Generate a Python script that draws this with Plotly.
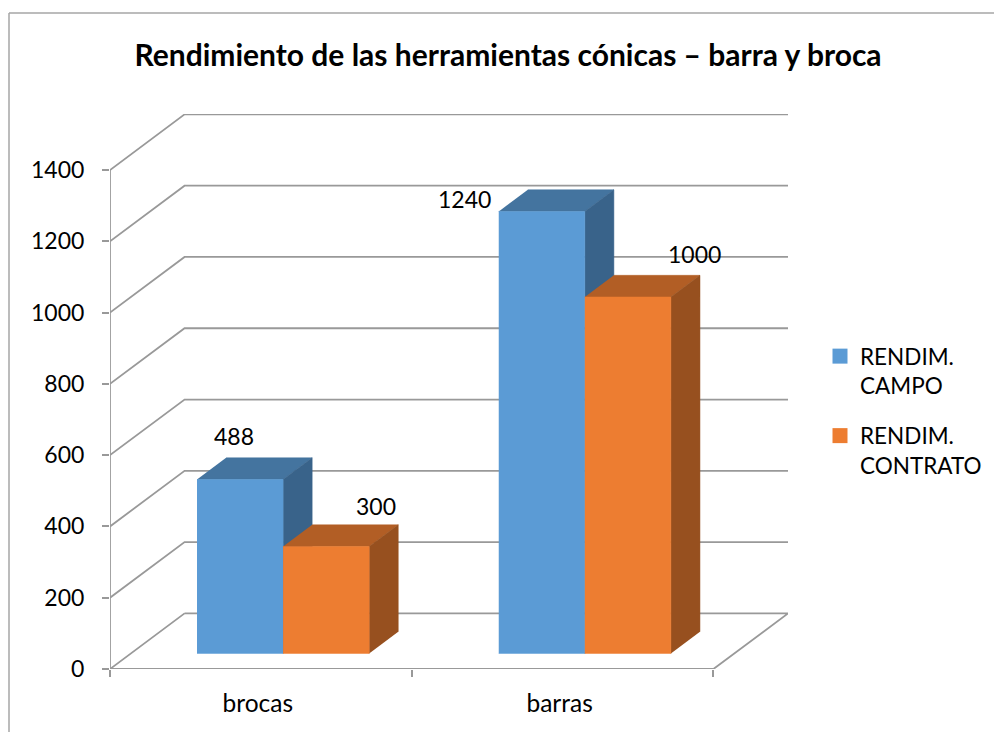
import plotly.graph_objects as go

categories = ['brocas', 'barras']
series_names = ['RENDIM.<br>CAMPO', 'RENDIM.<br>CONTRATO']
campo = [488, 1240]
contrato = [300, 1000]
y_ticks = [0, 200, 400, 600, 800, 1000, 1200, 1400]
title = 'Rendimiento de las herramientas cónicas – barra y broca'

GRID = '#999999'
TEXT = '#000000'
FONT = 'Lato'

# fake 3d: how much one unit of depth moves a point, in axis units
DEPTH_X = 0.2471
DEPTH_Y = 156
BAR_WIDTH = 0.2853
BAR_GAP = 0.2192
BAR_NEAR = 0.28
BAR_FAR = 0.67

# front, top and side colours of each series
series_colors = [('#5B9BD5', '#44749F', '#39638A'), ('#ED7D31', '#B25E25', '#97501F')]
# where each value label sits relative to its bar, in px
label_shifts = [[(-6, 43), (50, 41)], [(-77, 12), (67, 43)]]


def project(x, y, depth):
    return x + depth * DEPTH_X, y + depth * DEPTH_Y


def add_line(fig, points):
    xy = [project(*p) for p in points]
    fig.add_trace(go.Scatter(x=[p[0] for p in xy], y=[p[1] for p in xy], mode='lines', showlegend=False,
                             line=dict(color=GRID, width=1.8), cliponaxis=False, hoverinfo='skip'))


def add_face(fig, points, color):
    xy = [project(*p) for p in points]
    fig.add_trace(go.Scatter(x=[p[0] for p in xy], y=[p[1] for p in xy], mode='lines', fill='toself',
                             fillcolor=color, line=dict(color=color, width=0.5), showlegend=False,
                             cliponaxis=False, hoverinfo='skip'))


def add_bar(fig, x0, value, colors):
    x1 = x0 + BAR_WIDTH
    near, far = BAR_NEAR, BAR_FAR
    add_face(fig, [(x0, value, near), (x1, value, near), (x1, value, far), (x0, value, far)], colors[1])
    add_face(fig, [(x1, 0, near), (x1, value, near), (x1, value, far), (x1, 0, far)], colors[2])
    add_face(fig, [(x0, 0, near), (x1, 0, near), (x1, value, near), (x0, value, near)], colors[0])


fig = go.Figure()
n_cat = len(categories)

# walls and floor
for v in y_ticks[1:]:
    add_line(fig, [(0, v, 0), (0, v, 1), (n_cat, v, 1)])
add_line(fig, [(0, 0, 1), (n_cat, 0, 1), (n_cat, 0, 0), (0, 0, 0), (0, 0, 1)])
add_line(fig, [(0, 0, 0), (0, y_ticks[-1], 0)])

annotations = []
for i, cat in enumerate(categories):
    for s, values in enumerate([campo, contrato]):
        x0 = i + BAR_GAP + s * BAR_WIDTH
        add_bar(fig, x0, values[i], series_colors[s])
        lx, ly = project(x0 + BAR_WIDTH / 2, values[i], BAR_NEAR)
        annotations.append(dict(x=lx, y=ly, text=str(values[i]), showarrow=False,
                                xshift=label_shifts[i][s][0], yshift=label_shifts[i][s][1],
                                xanchor='center', yanchor='middle',
                                font=dict(family=FONT, size=23, color=TEXT)))

# legend only traces
for name, colors in zip(series_names, series_colors):
    fig.add_trace(go.Scatter(x=[None], y=[None], mode='markers', name=name, legendgroup=name,
                             marker=dict(symbol='square', size=15, color=colors[0])))

plot_w = 678
plot_h = 555
fig.update_layout(
    width=994, height=732,
    margin=dict(l=110, r=206, t=114, b=63, autoexpand=False),
    paper_bgcolor='white', plot_bgcolor='white',
    font=dict(family=FONT, size=23, color=TEXT),
    title=dict(text='<b>%s</b>' % title, x=508 / 994, xanchor='center', y=1 - 55.5 / 732, yanchor='middle',
               font=dict(family=FONT, size=30, color=TEXT)),
    legend=dict(x=(820 - 110) / plot_w, xanchor='left', y=(669 - 335) / plot_h, yanchor='top',
                valign='top', tracegroupgap=18, bgcolor='rgba(0,0,0,0)', borderwidth=0,
                font=dict(family=FONT, size=22.5, color=TEXT)),
    annotations=annotations,
    # chart frame, only top and left show in the crop
    shapes=[
        dict(type='line', xref='paper', yref='paper', x0=(9 - 110) / plot_w, x1=(994 - 110) / plot_w,
             y0=(669 - 13) / plot_h, y1=(669 - 13) / plot_h, line=dict(color='#A6A6A6', width=1.5)),
        dict(type='line', xref='paper', yref='paper', x0=(9 - 110) / plot_w, x1=(9 - 110) / plot_w,
             y0=(669 - 13) / plot_h, y1=(669 - 732) / plot_h, line=dict(color='#A6A6A6', width=1.5)),
    ],
)
fig.update_xaxes(range=[0, n_cat + DEPTH_X], showgrid=False, zeroline=False, showline=False,
                 tickmode='array', tickvals=[i + 0.49 for i in range(n_cat)], ticktext=categories,
                 tickfont=dict(family=FONT, size=24.5, color=TEXT),
                 ticks='', ticklabelstandoff=17,
                 minor=dict(tickmode='array', tickvals=list(range(n_cat + 1)), ticks='outside',
                            ticklen=7, tickwidth=1.5, tickcolor=GRID, showgrid=False))
fig.update_yaxes(range=[0, plot_h / (499 / 1400)], showgrid=False, zeroline=False, showline=False,
                 tickmode='array', tickvals=y_ticks, ticks='outside', ticklen=7, tickwidth=1.5,
                 tickcolor=GRID, ticklabelstandoff=13)

# the page keeps a default body margin otherwise
fig.write_html('out.html', config={'displayModeBar': False},
               post_script="document.body.style.margin='0';document.body.style.overflow='hidden';")
